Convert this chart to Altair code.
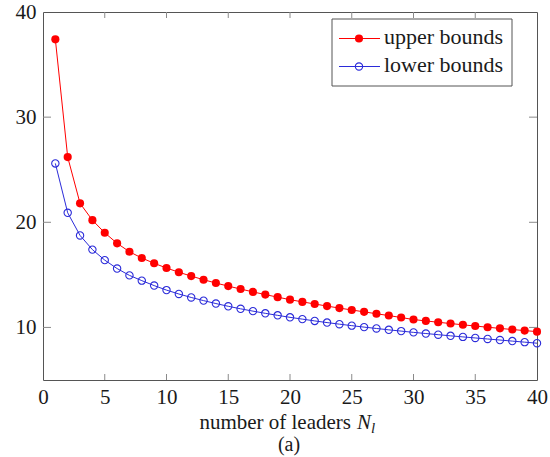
import altair as alt
import pandas as pd

# ---- data ----
n_leaders = list(range(1, 41))
upper_bounds = [37.4, 26.2, 21.8, 20.2, 19.0, 18.0, 17.2, 16.6, 16.1, 15.65,
                15.25, 14.88, 14.54, 14.22, 13.93, 13.65, 13.38, 13.12, 12.88, 12.64,
                12.43, 12.23, 12.03, 11.84, 11.66, 11.48, 11.30, 11.13, 10.94, 10.75,
                10.62, 10.49, 10.37, 10.25, 10.13, 10.02, 9.91, 9.80, 9.70, 9.60]
lower_bounds = [25.6, 20.9, 18.75, 17.4, 16.4, 15.6, 14.95, 14.45, 13.98, 13.55,
                13.18, 12.85, 12.55, 12.27, 12.01, 11.77, 11.55, 11.34, 11.15, 10.96,
                10.79, 10.62, 10.46, 10.31, 10.17, 10.03, 9.90, 9.77, 9.65, 9.53,
                9.42, 9.31, 9.20, 9.10, 9.00, 8.90, 8.80, 8.70, 8.60, 8.50]
x_ticks = [0, 5, 10, 15, 20, 25, 30, 35, 40]
y_ticks = [10, 20, 30, 40]
x_inner_ticks = [5, 10, 15, 20, 25, 30, 35]
y_inner_ticks = [10, 20, 30]
legend_labels = ["upper bounds", "lower bounds"]

RED = "#ff0000"
BLUE = "#2b2bd9"
FONT = "Liberation Serif"
TXT = "#1a1a1a"
W, H = 494, 368

df = pd.DataFrame({"N": n_leaders, "upper": upper_bounds, "lower": lower_bounds})

xscale = alt.Scale(domain=[0, 40], nice=False, zero=False)
yscale = alt.Scale(domain=[5, 40], nice=False, zero=False)

xenc = alt.X("N:Q", scale=xscale,
             axis=alt.Axis(values=x_ticks, title=None, grid=False, ticks=False,
                           domain=False, labelPadding=6, labelFlush=False,
                           labelOverlap=False, labelBound=False))
base = alt.Chart(df).encode(x=xenc)

yup = alt.Y("upper:Q", scale=yscale,
            axis=alt.Axis(values=y_ticks, title=None, grid=False, ticks=False,
                          domain=False, labelPadding=7, labelFlush=False,
                          labelOverlap=False, labelBound=False, labelBaseline="middle"))
ylo = alt.Y("lower:Q", scale=yscale)

up_line = base.mark_line(color=RED, strokeWidth=1).encode(y=yup)
up_pts = base.mark_point(filled=True, color=RED, size=66, opacity=1).encode(y=yup)
lo_line = base.mark_line(color=BLUE, strokeWidth=1).encode(y=ylo)
lo_pts = base.mark_point(filled=False, color=BLUE, size=54, strokeWidth=1.1, opacity=1).encode(y=ylo)

# inner tick marks (pgfplots style) on all four sides
xt = pd.DataFrame({"t": x_inner_ticks})
yt = pd.DataFrame({"t": y_inner_ticks})
tick_col = "#8a8a8a"
xt_bottom = alt.Chart(xt).mark_rule(color=tick_col, strokeWidth=1).encode(
    x=alt.X("t:Q", scale=xscale), y=alt.value(H), y2=alt.value(H - 6))
xt_top = alt.Chart(xt).mark_rule(color=tick_col, strokeWidth=1).encode(
    x=alt.X("t:Q", scale=xscale), y=alt.value(0), y2=alt.value(6))
yt_left = alt.Chart(yt).mark_rule(color=tick_col, strokeWidth=1).encode(
    y=alt.Y("t:Q", scale=yscale), x=alt.value(0), x2=alt.value(8))
yt_right = alt.Chart(yt).mark_rule(color=tick_col, strokeWidth=1).encode(
    y=alt.Y("t:Q", scale=yscale), x=alt.value(W), x2=alt.value(W - 8))

# x-axis title: "number of leaders N_l" and "(a)"
t_main = alt.Chart(pd.DataFrame({"s": ["number of leaders"]})).mark_text(
    font=FONT, fontSize=21, align="right", baseline="alphabetic", color=TXT).encode(
    text="s:N", x=alt.value(308), y=alt.value(417))
t_N = alt.Chart(pd.DataFrame({"s": ["N"]})).mark_text(
    font=FONT, fontSize=21, fontStyle="italic", align="left", baseline="alphabetic",
    color=TXT).encode(text="s:N", x=alt.value(314), y=alt.value(417))
t_l = alt.Chart(pd.DataFrame({"s": ["l"]})).mark_text(
    font=FONT, fontSize=15, fontStyle="italic", align="left", baseline="alphabetic",
    color=TXT).encode(text="s:N", x=alt.value(328), y=alt.value(421))
t_a = alt.Chart(pd.DataFrame({"s": ["(a)"]})).mark_text(
    font=FONT, fontSize=20, align="center", baseline="alphabetic", color=TXT).encode(
    text="s:N", x=alt.value(246), y=alt.value(439))

# legend (drawn by hand to match pgfplots)
leg_box = alt.Chart(pd.DataFrame({"a": [0]})).mark_rect(
    fill="white", stroke="#555555", strokeWidth=1).encode(
    x=alt.value(289), x2=alt.value(469), y=alt.value(7), y2=alt.value(74))
leg_up_line = alt.Chart(pd.DataFrame({"a": [0]})).mark_rule(color=RED, strokeWidth=1).encode(
    x=alt.value(296), x2=alt.value(337), y=alt.value(26.5))
leg_up_pt = alt.Chart(pd.DataFrame({"a": [0]})).mark_point(
    filled=True, color=RED, size=66, opacity=1).encode(x=alt.value(316), y=alt.value(26.5))
leg_lo_line = alt.Chart(pd.DataFrame({"a": [0]})).mark_rule(color=BLUE, strokeWidth=1).encode(
    x=alt.value(296), x2=alt.value(337), y=alt.value(54.5))
leg_lo_pt = alt.Chart(pd.DataFrame({"a": [0]})).mark_point(
    filled=False, color=BLUE, size=54, strokeWidth=1.1, opacity=1).encode(
    x=alt.value(316), y=alt.value(54.5))
leg_t1 = alt.Chart(pd.DataFrame({"s": [legend_labels[0]]})).mark_text(
    font=FONT, fontSize=22, align="left", baseline="middle", color=TXT).encode(
    text="s:N", x=alt.value(341), y=alt.value(25))
leg_t2 = alt.Chart(pd.DataFrame({"s": [legend_labels[1]]})).mark_text(
    font=FONT, fontSize=22, align="left", baseline="middle", color=TXT).encode(
    text="s:N", x=alt.value(341), y=alt.value(53))

chart = alt.layer(
    up_line, lo_line, up_pts, lo_pts,
    xt_bottom, xt_top, yt_left, yt_right,
    t_main, t_N, t_l, t_a,
    leg_box, leg_up_line, leg_up_pt, leg_lo_line, leg_lo_pt, leg_t1, leg_t2,
).properties(
    width=W, height=H,
    autosize=alt.AutoSizeParams(type="none"),
    padding={"left": 43, "top": 12, "right": 13, "bottom": 77},
    background="white",
).configure_view(
    stroke="#555555", strokeWidth=1
).configure_axis(
    labelFont=FONT, labelFontSize=21, labelColor=TXT
)

chart.save("out.html", embed_options={"renderer": "svg", "actions": False})
